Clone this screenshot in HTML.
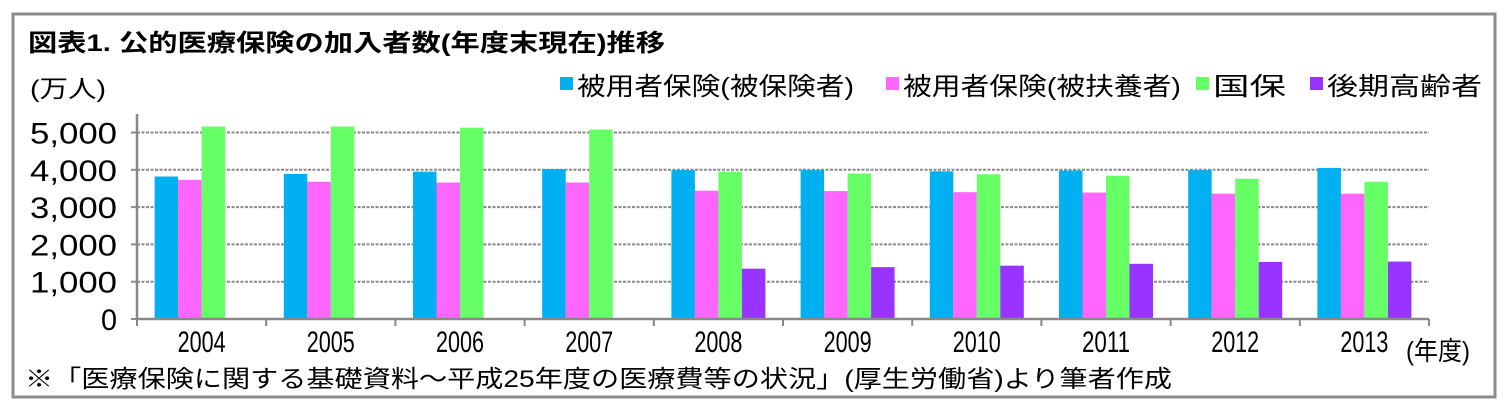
<!DOCTYPE html>
<html><head><meta charset="utf-8"><style>
body{margin:0;background:#fff}
svg{display:block;font-family:"Liberation Sans","Noto Sans CJK JP",sans-serif}
</style></head><body>
<svg id="c" width="1510" height="406">
<rect x="13" y="14" width="1482" height="383" fill="#fff" stroke="#8c8c8c" stroke-width="3"/>
<text x="28" y="51" font-size="24" font-weight="bold" textLength="637" lengthAdjust="spacingAndGlyphs">図表1.  公的医療保険の加入者数(年度末現在)推移</text>
<text x="30" y="97" font-size="24" textLength="76" lengthAdjust="spacingAndGlyphs">(万人)</text>
<g id="legend"></g>
<g id="grid"></g>
<g id="bars"></g>
<g id="axes"></g>
<text x="1406" y="360" font-size="26" textLength="64" lengthAdjust="spacingAndGlyphs">(年度)</text>
<text x="25" y="387" font-size="24" textLength="1147" lengthAdjust="spacingAndGlyphs">※「医療保険に関する基礎資料～平成25年度の医療費等の状況」(厚生労働省)より筆者作成</text>
</svg>
<script>
const categories=["2004","2005","2006","2007","2008","2009","2010","2011","2012","2013"];
const employeeInsured=[3820,3890,3950,4020,3990,3990,3960,3980,3990,4050];
const employeeDependents=[3730,3680,3660,3660,3440,3430,3400,3390,3360,3360];
const nationalHealth=[5160,5160,5130,5080,3950,3900,3880,3840,3760,3680];
const lateElderly=[null,null,null,null,1350,1390,1430,1480,1530,1540];
const yTicks=[0,1000,2000,3000,4000,5000];
const yTickLabels=["0","1,000","2,000","3,000","4,000","5,000"];
const seriesNames=["被用者保険(被保険者)","被用者保険(被扶養者)","国保","後期高齢者"];
const colors=["#00B0F0","#FF66FF","#66FF66","#9933FF"];
const NS="http://www.w3.org/2000/svg";
const X0=137,X1=1429,Y0=319,PX_PER=0.0373;
const y=v=>Y0-v*PX_PER;
const catW=(X1-X0)/categories.length;
const x=i=>X0+i*catW;
function mk(tag,attrs,parent){const e=document.createElementNS(NS,tag);for(const k in attrs)e.setAttribute(k,attrs[k]);parent.appendChild(e);return e;}
const grid=document.getElementById('grid'),bars=document.getElementById('bars'),axes=document.getElementById('axes'),legend=document.getElementById('legend');
yTicks.forEach((t,i)=>{
  if(t>0){const l=mk('line',{x1:X0,x2:X1,y1:y(t),y2:y(t),stroke:'#888','stroke-width':2,'stroke-dasharray':'3,1.5'},grid);
  
  }
  const tl=mk('text',{x:117,y:y(t)+11,'font-size':30,'text-anchor':'end'},axes);
  if(yTickLabels[i].length>1){tl.setAttribute('textLength',yTickLabels[i].length*17.4);tl.setAttribute('lengthAdjust','spacingAndGlyphs');}
  else{tl.setAttribute('textLength',16);tl.setAttribute('lengthAdjust','spacingAndGlyphs');}
  tl.textContent=yTickLabels[i];
  
  
  const tk=mk('line',{x1:X0-6,x2:X0,y1:y(t),y2:y(t),stroke:'#888','stroke-width':2},axes);
  
  
});
const series=[employeeInsured,employeeDependents,nationalHealth,lateElderly];
const bw=23.5,groupOff=(catW-4*bw)/2;
categories.forEach((c,i)=>{
  series.forEach((s,j)=>{
    if(s[i]==null)return;
    const r=mk('rect',{x:x(i)+groupOff+j*bw,y:y(s[i]),width:bw,height:Y0-y(s[i]),fill:colors[j]},bars);
    
    
  });
  const t=mk('text',{x:x(i)+catW/2,y:352,'font-size':30,'text-anchor':'middle',textLength:48,lengthAdjust:'spacingAndGlyphs'},axes);
  t.textContent=c;
  
  
});
for(let i=0;i<=categories.length;i++){const tk=mk('line',{x1:x(i),x2:x(i),y1:Y0,y2:Y0+7,stroke:'#888','stroke-width':2},axes);

}
const ya=mk('line',{x1:X0,x2:X0,y1:114,y2:Y0,stroke:'#888','stroke-width':2.5},axes);


const xa=mk('line',{x1:X0,x2:X1,y1:Y0,y2:Y0,stroke:'#888','stroke-width':2.5},axes);


const legX=[560,886,1196,1310],legW=[277,278,73,155];
seriesNames.forEach((n,j)=>{
  const sq=mk('rect',{x:legX[j],y:77,width:13,height:13,fill:colors[j]},legend);
  
  
  const t=mk('text',{x:legX[j]+17,y:95,'font-size':25,textLength:legW[j],lengthAdjust:'spacingAndGlyphs'},legend);
  t.textContent=n;
  
  
});
</script>
</body></html>
